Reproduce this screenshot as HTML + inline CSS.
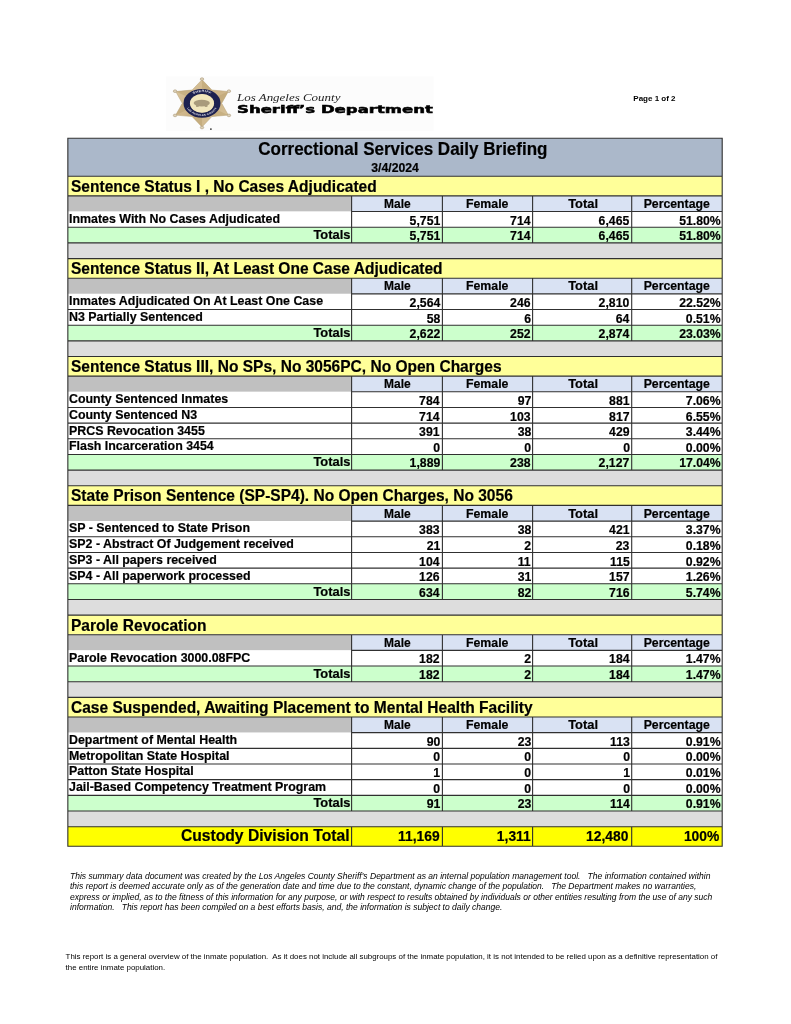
<!DOCTYPE html>
<html lang="en"><head><meta charset="utf-8"><title>Correctional Services Daily Briefing</title>
<style>
html,body{margin:0;padding:0;background:#fff;}
body{width:791px;height:1024px;position:relative;overflow:hidden;font-family:"Liberation Sans",Arial,sans-serif;color:#000;}
.t{position:absolute;white-space:nowrap;font-weight:bold;-webkit-text-stroke:.2px #000;}
.t1{font-size:18.1px;line-height:20px;height:20px;}.t2{font-size:12.9px;line-height:15px;height:15px;}.sec{font-size:16.5px;line-height:18px;height:18px;}.ch{font-size:12.9px;line-height:15px;height:15px;}.lab{font-size:12.9px;line-height:15px;height:15px;}.num{font-size:12.9px;line-height:15px;height:15px;}.totl{font-size:12.9px;line-height:15px;height:15px;}.ctl{font-size:16.5px;line-height:18px;height:18px;}.ctn{font-size:14.2px;line-height:16px;height:16px;}
.sx{display:inline-block;transform:scaleX(.95);transform-origin:0 50%;}
.num .sx,.totl .sx,.ctl .sx,.ctn .sx{transform-origin:100% 50%;}
.ch .sx,.t1 .sx,.t2 .sx{transform-origin:50% 50%;}
.t1 .sx{transform:scaleX(.94);}
.sec .sx{transform:scaleX(.941);}
.lab .sx{transform:scaleX(.962);}
.totl .sx{transform:none;}
.ctn .sx{transform:scaleX(.975);}
.pg{position:absolute;left:633.3px;top:94px;font-size:8px;font-weight:bold;line-height:10px;white-space:nowrap;}
.f1{position:absolute;left:70.4px;top:870.8px;font-size:8.9px;line-height:10.45px;font-style:italic;white-space:nowrap;transform:scaleX(.961);transform-origin:0 0;}
.f2{position:absolute;left:65.6px;top:952px;font-size:7.9px;line-height:10.8px;white-space:nowrap;}
.lg1{position:absolute;left:237px;top:90px;font-family:"Liberation Serif",serif;font-style:italic;font-size:10.8px;line-height:14px;white-space:nowrap;color:#222;transform:scaleX(1.2);transform-origin:0 0;}
.lg2{position:absolute;left:236.6px;top:102px;font-family:"DejaVu Sans","Liberation Sans",sans-serif;font-weight:bold;font-size:10.8px;line-height:16px;white-space:nowrap;transform:scaleX(1.53);transform-origin:0 0;-webkit-text-stroke:.5px #000;}
</style></head><body>
<svg style="position:absolute;left:0;top:0" width="791" height="140" viewBox="0 0 791 140">
<defs>
<linearGradient id="sg" x1="0" y1="0" x2="1" y2="1"><stop offset="0" stop-color="#dcc9a2"/><stop offset=".5" stop-color="#cdb387"/><stop offset="1" stop-color="#d8c59c"/></linearGradient>
<path id="arcT" d="M -11.4 0 A 11.4 11.4 0 0 1 11.4 0"/>
<path id="arcB" d="M -12.6 0 A 12.6 12.6 0 0 0 12.6 0"/>
</defs>
<rect x="166" y="76.5" width="267.5" height="54.5" fill="#fcfcfc"/>
<g transform="translate(202.0,103.3) scale(1.285,1)">
<polygon points="0.00,-23.60 7.65,-13.25 20.44,-11.80 15.30,0.00 20.44,11.80 7.65,13.25 0.00,23.60 -7.65,13.25 -20.44,11.80 -15.30,0.00 -20.44,-11.80 -7.65,-13.25" fill="url(#sg)" stroke="#bda77c" stroke-width=".5"/>
<polygon points="0,0 0.00,-23.60 7.65,-13.25" fill="#b99f6d" opacity=".45"/><polygon points="0,0 20.44,-11.80 15.30,0.00" fill="#b99f6d" opacity=".45"/><polygon points="0,0 20.44,11.80 7.65,13.25" fill="#b99f6d" opacity=".45"/><polygon points="0,0 0.00,23.60 -7.65,13.25" fill="#b99f6d" opacity=".45"/><polygon points="0,0 -20.44,11.80 -15.30,0.00" fill="#b99f6d" opacity=".45"/><polygon points="0,0 -20.44,-11.80 -7.65,-13.25" fill="#b99f6d" opacity=".45"/>
<circle cx="0.00" cy="-24.20" r="1.35" fill="#ded2b8" stroke="#a8977a" stroke-width=".5"/><circle cx="20.96" cy="-12.10" r="1.35" fill="#ded2b8" stroke="#a8977a" stroke-width=".5"/><circle cx="20.96" cy="12.10" r="1.35" fill="#ded2b8" stroke="#a8977a" stroke-width=".5"/><circle cx="0.00" cy="24.20" r="1.35" fill="#ded2b8" stroke="#a8977a" stroke-width=".5"/><circle cx="-20.96" cy="12.10" r="1.35" fill="#ded2b8" stroke="#a8977a" stroke-width=".5"/><circle cx="-20.96" cy="-12.10" r="1.35" fill="#ded2b8" stroke="#a8977a" stroke-width=".5"/>
<circle r="11.85" fill="none" stroke="#1d2150" stroke-width="5.1"/>
<circle r="9.35" fill="#f1e6bd"/>
<ellipse cx="-.2" cy="-.2" rx="6.3" ry="3.4" fill="#a99b7c"/>
<rect x="-4.6" y="1.2" width="2" height="2.4" fill="#a99b7c"/><rect x="2.2" y="1.2" width="2" height="2.4" fill="#a99b7c"/>
<text font-family="Liberation Sans,sans-serif" font-weight="bold" font-size="2.9" fill="#e4e4ec" text-anchor="middle" letter-spacing=".25"><textPath href="#arcT" startOffset="50%">SHERIFF</textPath></text>
<text font-family="Liberation Sans,sans-serif" font-weight="bold" font-size="2.4" fill="#dcdce6" text-anchor="middle" letter-spacing=".1"><textPath href="#arcB" startOffset="50%">LOS ANGELES COUNTY</textPath></text>
</g>
<circle cx="210.9" cy="129.1" r=".9" fill="#333"/>
</svg>
<div class="lg1">Los Angeles County</div>
<div class="lg2">Sheriff’s Department</div>
<div class="pg">Page 1 of 2</div>
<svg style="position:absolute;left:0;top:0" width="791" height="1024" viewBox="0 0 791 1024"><rect x="67.85" y="138.30" width="654.35" height="38.00" fill="#abb8ca"/><rect x="67.85" y="176.30" width="654.35" height="19.60" fill="#ffff99"/><rect x="67.85" y="195.90" width="283.75" height="15.67" fill="#c0c0c0"/><rect x="351.60" y="195.90" width="90.80" height="15.67" fill="#d9e2f3"/><rect x="442.40" y="195.90" width="90.20" height="15.67" fill="#d9e2f3"/><rect x="532.60" y="195.90" width="99.10" height="15.67" fill="#d9e2f3"/><rect x="631.70" y="195.90" width="90.50" height="15.67" fill="#d9e2f3"/><rect x="67.85" y="211.57" width="654.35" height="15.67" fill="#ffffff"/><rect x="67.85" y="227.24" width="654.35" height="15.67" fill="#ccffcc"/><rect x="67.85" y="242.91" width="654.35" height="15.67" fill="#dddddd"/><rect x="67.85" y="258.58" width="654.35" height="19.60" fill="#ffff99"/><rect x="67.85" y="278.18" width="283.75" height="15.67" fill="#c0c0c0"/><rect x="351.60" y="278.18" width="90.80" height="15.67" fill="#d9e2f3"/><rect x="442.40" y="278.18" width="90.20" height="15.67" fill="#d9e2f3"/><rect x="532.60" y="278.18" width="99.10" height="15.67" fill="#d9e2f3"/><rect x="631.70" y="278.18" width="90.50" height="15.67" fill="#d9e2f3"/><rect x="67.85" y="293.85" width="654.35" height="15.67" fill="#ffffff"/><rect x="67.85" y="309.52" width="654.35" height="15.67" fill="#ffffff"/><rect x="67.85" y="325.19" width="654.35" height="15.67" fill="#ccffcc"/><rect x="67.85" y="340.86" width="654.35" height="15.67" fill="#dddddd"/><rect x="67.85" y="356.53" width="654.35" height="19.60" fill="#ffff99"/><rect x="67.85" y="376.13" width="283.75" height="15.67" fill="#c0c0c0"/><rect x="351.60" y="376.13" width="90.80" height="15.67" fill="#d9e2f3"/><rect x="442.40" y="376.13" width="90.20" height="15.67" fill="#d9e2f3"/><rect x="532.60" y="376.13" width="99.10" height="15.67" fill="#d9e2f3"/><rect x="631.70" y="376.13" width="90.50" height="15.67" fill="#d9e2f3"/><rect x="67.85" y="391.80" width="654.35" height="15.67" fill="#ffffff"/><rect x="67.85" y="407.47" width="654.35" height="15.67" fill="#ffffff"/><rect x="67.85" y="423.14" width="654.35" height="15.67" fill="#ffffff"/><rect x="67.85" y="438.81" width="654.35" height="15.67" fill="#ffffff"/><rect x="67.85" y="454.48" width="654.35" height="15.67" fill="#ccffcc"/><rect x="67.85" y="470.15" width="654.35" height="15.67" fill="#dddddd"/><rect x="67.85" y="485.82" width="654.35" height="19.60" fill="#ffff99"/><rect x="67.85" y="505.42" width="283.75" height="15.67" fill="#c0c0c0"/><rect x="351.60" y="505.42" width="90.80" height="15.67" fill="#d9e2f3"/><rect x="442.40" y="505.42" width="90.20" height="15.67" fill="#d9e2f3"/><rect x="532.60" y="505.42" width="99.10" height="15.67" fill="#d9e2f3"/><rect x="631.70" y="505.42" width="90.50" height="15.67" fill="#d9e2f3"/><rect x="67.85" y="521.09" width="654.35" height="15.67" fill="#ffffff"/><rect x="67.85" y="536.76" width="654.35" height="15.67" fill="#ffffff"/><rect x="67.85" y="552.43" width="654.35" height="15.67" fill="#ffffff"/><rect x="67.85" y="568.10" width="654.35" height="15.67" fill="#ffffff"/><rect x="67.85" y="583.77" width="654.35" height="15.67" fill="#ccffcc"/><rect x="67.85" y="599.44" width="654.35" height="15.67" fill="#dddddd"/><rect x="67.85" y="615.11" width="654.35" height="19.60" fill="#ffff99"/><rect x="67.85" y="634.71" width="283.75" height="15.67" fill="#c0c0c0"/><rect x="351.60" y="634.71" width="90.80" height="15.67" fill="#d9e2f3"/><rect x="442.40" y="634.71" width="90.20" height="15.67" fill="#d9e2f3"/><rect x="532.60" y="634.71" width="99.10" height="15.67" fill="#d9e2f3"/><rect x="631.70" y="634.71" width="90.50" height="15.67" fill="#d9e2f3"/><rect x="67.85" y="650.38" width="654.35" height="15.67" fill="#ffffff"/><rect x="67.85" y="666.05" width="654.35" height="15.67" fill="#ccffcc"/><rect x="67.85" y="681.72" width="654.35" height="15.67" fill="#dddddd"/><rect x="67.85" y="697.39" width="654.35" height="19.60" fill="#ffff99"/><rect x="67.85" y="716.99" width="283.75" height="15.67" fill="#c0c0c0"/><rect x="351.60" y="716.99" width="90.80" height="15.67" fill="#d9e2f3"/><rect x="442.40" y="716.99" width="90.20" height="15.67" fill="#d9e2f3"/><rect x="532.60" y="716.99" width="99.10" height="15.67" fill="#d9e2f3"/><rect x="631.70" y="716.99" width="90.50" height="15.67" fill="#d9e2f3"/><rect x="67.85" y="732.66" width="654.35" height="15.67" fill="#ffffff"/><rect x="67.85" y="748.33" width="654.35" height="15.67" fill="#ffffff"/><rect x="67.85" y="764.00" width="654.35" height="15.67" fill="#ffffff"/><rect x="67.85" y="779.67" width="654.35" height="15.67" fill="#ffffff"/><rect x="67.85" y="795.34" width="654.35" height="15.67" fill="#ccffcc"/><rect x="67.85" y="811.01" width="654.35" height="15.67" fill="#dddddd"/><rect x="67.85" y="826.68" width="654.35" height="19.60" fill="#ffff00"/><path fill="none" stroke="#303030" stroke-width="1.1" d="M67.30 138.30H722.75M67.30 176.30H722.75M67.30 195.90H722.75M351.05 211.57H722.75M351.60 195.35V212.12M442.40 195.35V212.12M532.60 195.35V212.12M631.70 195.35V212.12M351.60 211.02V227.79M442.40 211.02V227.79M532.60 211.02V227.79M631.70 211.02V227.79M67.30 227.24H722.75M351.60 226.69V243.46M442.40 226.69V243.46M532.60 226.69V243.46M631.70 226.69V243.46M67.30 242.91H722.75M67.30 258.58H722.75M67.30 278.18H722.75M351.05 293.85H722.75M351.60 277.63V294.40M442.40 277.63V294.40M532.60 277.63V294.40M631.70 277.63V294.40M351.60 293.30V310.07M442.40 293.30V310.07M532.60 293.30V310.07M631.70 293.30V310.07M67.30 309.52H722.75M351.60 308.97V325.74M442.40 308.97V325.74M532.60 308.97V325.74M631.70 308.97V325.74M67.30 325.19H722.75M351.60 324.64V341.41M442.40 324.64V341.41M532.60 324.64V341.41M631.70 324.64V341.41M67.30 340.86H722.75M67.30 356.53H722.75M67.30 376.13H722.75M351.05 391.80H722.75M351.60 375.58V392.35M442.40 375.58V392.35M532.60 375.58V392.35M631.70 375.58V392.35M351.60 391.25V408.02M442.40 391.25V408.02M532.60 391.25V408.02M631.70 391.25V408.02M67.30 407.47H722.75M351.60 406.92V423.69M442.40 406.92V423.69M532.60 406.92V423.69M631.70 406.92V423.69M67.30 423.14H722.75M351.60 422.59V439.36M442.40 422.59V439.36M532.60 422.59V439.36M631.70 422.59V439.36M67.30 438.81H722.75M351.60 438.26V455.03M442.40 438.26V455.03M532.60 438.26V455.03M631.70 438.26V455.03M67.30 454.48H722.75M351.60 453.93V470.70M442.40 453.93V470.70M532.60 453.93V470.70M631.70 453.93V470.70M67.30 470.15H722.75M67.30 485.82H722.75M67.30 505.42H722.75M351.05 521.09H722.75M351.60 504.87V521.64M442.40 504.87V521.64M532.60 504.87V521.64M631.70 504.87V521.64M351.60 520.54V537.31M442.40 520.54V537.31M532.60 520.54V537.31M631.70 520.54V537.31M67.30 536.76H722.75M351.60 536.21V552.98M442.40 536.21V552.98M532.60 536.21V552.98M631.70 536.21V552.98M67.30 552.43H722.75M351.60 551.88V568.65M442.40 551.88V568.65M532.60 551.88V568.65M631.70 551.88V568.65M67.30 568.10H722.75M351.60 567.55V584.32M442.40 567.55V584.32M532.60 567.55V584.32M631.70 567.55V584.32M67.30 583.77H722.75M351.60 583.22V599.99M442.40 583.22V599.99M532.60 583.22V599.99M631.70 583.22V599.99M67.30 599.44H722.75M67.30 615.11H722.75M67.30 634.71H722.75M351.05 650.38H722.75M351.60 634.16V650.93M442.40 634.16V650.93M532.60 634.16V650.93M631.70 634.16V650.93M351.60 649.83V666.60M442.40 649.83V666.60M532.60 649.83V666.60M631.70 649.83V666.60M67.30 666.05H722.75M351.60 665.50V682.27M442.40 665.50V682.27M532.60 665.50V682.27M631.70 665.50V682.27M67.30 681.72H722.75M67.30 697.39H722.75M67.30 716.99H722.75M351.05 732.66H722.75M351.60 716.44V733.21M442.40 716.44V733.21M532.60 716.44V733.21M631.70 716.44V733.21M351.60 732.11V748.88M442.40 732.11V748.88M532.60 732.11V748.88M631.70 732.11V748.88M67.30 748.33H722.75M351.60 747.78V764.55M442.40 747.78V764.55M532.60 747.78V764.55M631.70 747.78V764.55M67.30 764.00H722.75M351.60 763.45V780.22M442.40 763.45V780.22M532.60 763.45V780.22M631.70 763.45V780.22M67.30 779.67H722.75M351.60 779.12V795.89M442.40 779.12V795.89M532.60 779.12V795.89M631.70 779.12V795.89M67.30 795.34H722.75M351.60 794.79V811.56M442.40 794.79V811.56M532.60 794.79V811.56M631.70 794.79V811.56M67.30 811.01H722.75M67.30 826.68H722.75M351.60 826.13V846.83M442.40 826.13V846.83M532.60 826.13V846.83M631.70 826.13V846.83M67.30 846.28H722.75M67.85 137.75V846.83M722.20 137.75V846.83"/></svg>
<div class="t t1" style="top:139px;left:152.90px;width:500px;text-align:center;"><span class="sx">Correctional Services Daily Briefing</span></div>
<div class="t t2" style="top:160px;left:145.50px;width:500px;text-align:center;"><span class="sx">3/4/2024</span></div>
<div class="t sec" style="top:177px;left:70.55px;"><span class="sx">Sentence Status I , No Cases Adjudicated</span></div>
<div class="t ch" style="top:196px;left:147.40px;width:500px;text-align:center;"><span class="sx" style="transform:scaleX(0.93)">Male</span></div>
<div class="t ch" style="top:196px;left:237.20px;width:500px;text-align:center;"><span class="sx" style="transform:scaleX(0.958)">Female</span></div>
<div class="t ch" style="top:196px;left:333.05px;width:500px;text-align:center;"><span class="sx" style="transform:scaleX(1.0)">Total</span></div>
<div class="t ch" style="top:196px;left:426.95px;width:500px;text-align:center;"><span class="sx" style="transform:scaleX(0.953)">Percentage</span></div>
<div class="t lab" style="top:211px;left:69.35px;"><span class="sx">Inmates With No Cases Adjudicated</span></div>
<div class="t num" style="top:213px;right:351.00px;"><span class="sx">5,751</span></div>
<div class="t num" style="top:213px;right:260.00px;"><span class="sx">714</span></div>
<div class="t num" style="top:213px;right:161.30px;"><span class="sx">6,465</span></div>
<div class="t num" style="top:213px;right:70.20px;"><span class="sx">51.80%</span></div>
<div class="t totl" style="top:227px;right:440.60px;"><span class="sx">Totals</span></div>
<div class="t num" style="top:228px;right:351.00px;"><span class="sx">5,751</span></div>
<div class="t num" style="top:228px;right:260.00px;"><span class="sx">714</span></div>
<div class="t num" style="top:228px;right:161.30px;"><span class="sx">6,465</span></div>
<div class="t num" style="top:228px;right:70.20px;"><span class="sx">51.80%</span></div>
<div class="t sec" style="top:259px;left:70.55px;"><span class="sx">Sentence Status II, At Least One Case Adjudicated</span></div>
<div class="t ch" style="top:278px;left:147.40px;width:500px;text-align:center;"><span class="sx" style="transform:scaleX(0.93)">Male</span></div>
<div class="t ch" style="top:278px;left:237.20px;width:500px;text-align:center;"><span class="sx" style="transform:scaleX(0.958)">Female</span></div>
<div class="t ch" style="top:278px;left:333.05px;width:500px;text-align:center;"><span class="sx" style="transform:scaleX(1.0)">Total</span></div>
<div class="t ch" style="top:278px;left:426.95px;width:500px;text-align:center;"><span class="sx" style="transform:scaleX(0.953)">Percentage</span></div>
<div class="t lab" style="top:293px;left:69.35px;"><span class="sx">Inmates Adjudicated On At Least One Case</span></div>
<div class="t num" style="top:295px;right:351.00px;"><span class="sx">2,564</span></div>
<div class="t num" style="top:295px;right:260.00px;"><span class="sx">246</span></div>
<div class="t num" style="top:295px;right:161.30px;"><span class="sx">2,810</span></div>
<div class="t num" style="top:295px;right:70.20px;"><span class="sx">22.52%</span></div>
<div class="t lab" style="top:309px;left:69.35px;"><span class="sx">N3 Partially Sentenced</span></div>
<div class="t num" style="top:311px;right:351.00px;"><span class="sx">58</span></div>
<div class="t num" style="top:311px;right:260.00px;"><span class="sx">6</span></div>
<div class="t num" style="top:311px;right:161.30px;"><span class="sx">64</span></div>
<div class="t num" style="top:311px;right:70.20px;"><span class="sx">0.51%</span></div>
<div class="t totl" style="top:325px;right:440.60px;"><span class="sx">Totals</span></div>
<div class="t num" style="top:326px;right:351.00px;"><span class="sx">2,622</span></div>
<div class="t num" style="top:326px;right:260.00px;"><span class="sx">252</span></div>
<div class="t num" style="top:326px;right:161.30px;"><span class="sx">2,874</span></div>
<div class="t num" style="top:326px;right:70.20px;"><span class="sx">23.03%</span></div>
<div class="t sec" style="top:357px;left:70.55px;"><span class="sx">Sentence Status III, No SPs, No 3056PC, No Open Charges</span></div>
<div class="t ch" style="top:376px;left:147.40px;width:500px;text-align:center;"><span class="sx" style="transform:scaleX(0.93)">Male</span></div>
<div class="t ch" style="top:376px;left:237.20px;width:500px;text-align:center;"><span class="sx" style="transform:scaleX(0.958)">Female</span></div>
<div class="t ch" style="top:376px;left:333.05px;width:500px;text-align:center;"><span class="sx" style="transform:scaleX(1.0)">Total</span></div>
<div class="t ch" style="top:376px;left:426.95px;width:500px;text-align:center;"><span class="sx" style="transform:scaleX(0.953)">Percentage</span></div>
<div class="t lab" style="top:391px;left:69.35px;"><span class="sx">County Sentenced Inmates</span></div>
<div class="t num" style="top:393px;right:351.00px;"><span class="sx">784</span></div>
<div class="t num" style="top:393px;right:260.00px;"><span class="sx">97</span></div>
<div class="t num" style="top:393px;right:161.30px;"><span class="sx">881</span></div>
<div class="t num" style="top:393px;right:70.20px;"><span class="sx">7.06%</span></div>
<div class="t lab" style="top:407px;left:69.35px;"><span class="sx">County Sentenced N3</span></div>
<div class="t num" style="top:409px;right:351.00px;"><span class="sx">714</span></div>
<div class="t num" style="top:409px;right:260.00px;"><span class="sx">103</span></div>
<div class="t num" style="top:409px;right:161.30px;"><span class="sx">817</span></div>
<div class="t num" style="top:409px;right:70.20px;"><span class="sx">6.55%</span></div>
<div class="t lab" style="top:423px;left:69.35px;"><span class="sx">PRCS Revocation 3455</span></div>
<div class="t num" style="top:424px;right:351.00px;"><span class="sx">391</span></div>
<div class="t num" style="top:424px;right:260.00px;"><span class="sx">38</span></div>
<div class="t num" style="top:424px;right:161.30px;"><span class="sx">429</span></div>
<div class="t num" style="top:424px;right:70.20px;"><span class="sx">3.44%</span></div>
<div class="t lab" style="top:438px;left:69.35px;"><span class="sx">Flash Incarceration 3454</span></div>
<div class="t num" style="top:440px;right:351.00px;"><span class="sx">0</span></div>
<div class="t num" style="top:440px;right:260.00px;"><span class="sx">0</span></div>
<div class="t num" style="top:440px;right:161.30px;"><span class="sx">0</span></div>
<div class="t num" style="top:440px;right:70.20px;"><span class="sx">0.00%</span></div>
<div class="t totl" style="top:454px;right:440.60px;"><span class="sx">Totals</span></div>
<div class="t num" style="top:455px;right:351.00px;"><span class="sx">1,889</span></div>
<div class="t num" style="top:455px;right:260.00px;"><span class="sx">238</span></div>
<div class="t num" style="top:455px;right:161.30px;"><span class="sx">2,127</span></div>
<div class="t num" style="top:455px;right:70.20px;"><span class="sx">17.04%</span></div>
<div class="t sec" style="top:486px;left:70.55px;"><span class="sx">State Prison Sentence (SP-SP4). No Open Charges, No 3056</span></div>
<div class="t ch" style="top:506px;left:147.40px;width:500px;text-align:center;"><span class="sx" style="transform:scaleX(0.93)">Male</span></div>
<div class="t ch" style="top:506px;left:237.20px;width:500px;text-align:center;"><span class="sx" style="transform:scaleX(0.958)">Female</span></div>
<div class="t ch" style="top:506px;left:333.05px;width:500px;text-align:center;"><span class="sx" style="transform:scaleX(1.0)">Total</span></div>
<div class="t ch" style="top:506px;left:426.95px;width:500px;text-align:center;"><span class="sx" style="transform:scaleX(0.953)">Percentage</span></div>
<div class="t lab" style="top:520px;left:69.35px;"><span class="sx">SP - Sentenced to State Prison</span></div>
<div class="t num" style="top:522px;right:351.00px;"><span class="sx">383</span></div>
<div class="t num" style="top:522px;right:260.00px;"><span class="sx">38</span></div>
<div class="t num" style="top:522px;right:161.30px;"><span class="sx">421</span></div>
<div class="t num" style="top:522px;right:70.20px;"><span class="sx">3.37%</span></div>
<div class="t lab" style="top:536px;left:69.35px;"><span class="sx">SP2 - Abstract Of Judgement received</span></div>
<div class="t num" style="top:538px;right:351.00px;"><span class="sx">21</span></div>
<div class="t num" style="top:538px;right:260.00px;"><span class="sx">2</span></div>
<div class="t num" style="top:538px;right:161.30px;"><span class="sx">23</span></div>
<div class="t num" style="top:538px;right:70.20px;"><span class="sx">0.18%</span></div>
<div class="t lab" style="top:552px;left:69.35px;"><span class="sx">SP3 - All papers received</span></div>
<div class="t num" style="top:554px;right:351.00px;"><span class="sx">104</span></div>
<div class="t num" style="top:554px;right:260.00px;"><span class="sx">11</span></div>
<div class="t num" style="top:554px;right:161.30px;"><span class="sx">115</span></div>
<div class="t num" style="top:554px;right:70.20px;"><span class="sx">0.92%</span></div>
<div class="t lab" style="top:568px;left:69.35px;"><span class="sx">SP4 - All paperwork processed</span></div>
<div class="t num" style="top:569px;right:351.00px;"><span class="sx">126</span></div>
<div class="t num" style="top:569px;right:260.00px;"><span class="sx">31</span></div>
<div class="t num" style="top:569px;right:161.30px;"><span class="sx">157</span></div>
<div class="t num" style="top:569px;right:70.20px;"><span class="sx">1.26%</span></div>
<div class="t totl" style="top:584px;right:440.60px;"><span class="sx">Totals</span></div>
<div class="t num" style="top:585px;right:351.00px;"><span class="sx">634</span></div>
<div class="t num" style="top:585px;right:260.00px;"><span class="sx">82</span></div>
<div class="t num" style="top:585px;right:161.30px;"><span class="sx">716</span></div>
<div class="t num" style="top:585px;right:70.20px;"><span class="sx">5.74%</span></div>
<div class="t sec" style="top:616px;left:70.55px;"><span class="sx">Parole Revocation</span></div>
<div class="t ch" style="top:635px;left:147.40px;width:500px;text-align:center;"><span class="sx" style="transform:scaleX(0.93)">Male</span></div>
<div class="t ch" style="top:635px;left:237.20px;width:500px;text-align:center;"><span class="sx" style="transform:scaleX(0.958)">Female</span></div>
<div class="t ch" style="top:635px;left:333.05px;width:500px;text-align:center;"><span class="sx" style="transform:scaleX(1.0)">Total</span></div>
<div class="t ch" style="top:635px;left:426.95px;width:500px;text-align:center;"><span class="sx" style="transform:scaleX(0.953)">Percentage</span></div>
<div class="t lab" style="top:650px;left:69.35px;"><span class="sx">Parole Revocation 3000.08FPC</span></div>
<div class="t num" style="top:651px;right:351.00px;"><span class="sx">182</span></div>
<div class="t num" style="top:651px;right:260.00px;"><span class="sx">2</span></div>
<div class="t num" style="top:651px;right:161.30px;"><span class="sx">184</span></div>
<div class="t num" style="top:651px;right:70.20px;"><span class="sx">1.47%</span></div>
<div class="t totl" style="top:666px;right:440.60px;"><span class="sx">Totals</span></div>
<div class="t num" style="top:667px;right:351.00px;"><span class="sx">182</span></div>
<div class="t num" style="top:667px;right:260.00px;"><span class="sx">2</span></div>
<div class="t num" style="top:667px;right:161.30px;"><span class="sx">184</span></div>
<div class="t num" style="top:667px;right:70.20px;"><span class="sx">1.47%</span></div>
<div class="t sec" style="top:698px;left:70.55px;"><span class="sx">Case Suspended, Awaiting Placement to Mental Health Facility</span></div>
<div class="t ch" style="top:717px;left:147.40px;width:500px;text-align:center;"><span class="sx" style="transform:scaleX(0.93)">Male</span></div>
<div class="t ch" style="top:717px;left:237.20px;width:500px;text-align:center;"><span class="sx" style="transform:scaleX(0.958)">Female</span></div>
<div class="t ch" style="top:717px;left:333.05px;width:500px;text-align:center;"><span class="sx" style="transform:scaleX(1.0)">Total</span></div>
<div class="t ch" style="top:717px;left:426.95px;width:500px;text-align:center;"><span class="sx" style="transform:scaleX(0.953)">Percentage</span></div>
<div class="t lab" style="top:732px;left:69.35px;"><span class="sx">Department of Mental Health</span></div>
<div class="t num" style="top:734px;right:351.00px;"><span class="sx">90</span></div>
<div class="t num" style="top:734px;right:260.00px;"><span class="sx">23</span></div>
<div class="t num" style="top:734px;right:161.30px;"><span class="sx">113</span></div>
<div class="t num" style="top:734px;right:70.20px;"><span class="sx">0.91%</span></div>
<div class="t lab" style="top:748px;left:69.35px;"><span class="sx">Metropolitan State Hospital</span></div>
<div class="t num" style="top:749px;right:351.00px;"><span class="sx">0</span></div>
<div class="t num" style="top:749px;right:260.00px;"><span class="sx">0</span></div>
<div class="t num" style="top:749px;right:161.30px;"><span class="sx">0</span></div>
<div class="t num" style="top:749px;right:70.20px;"><span class="sx">0.00%</span></div>
<div class="t lab" style="top:763px;left:69.35px;"><span class="sx">Patton State Hospital</span></div>
<div class="t num" style="top:765px;right:351.00px;"><span class="sx">1</span></div>
<div class="t num" style="top:765px;right:260.00px;"><span class="sx">0</span></div>
<div class="t num" style="top:765px;right:161.30px;"><span class="sx">1</span></div>
<div class="t num" style="top:765px;right:70.20px;"><span class="sx">0.01%</span></div>
<div class="t lab" style="top:779px;left:69.35px;"><span class="sx">Jail-Based Competency Treatment Program</span></div>
<div class="t num" style="top:781px;right:351.00px;"><span class="sx">0</span></div>
<div class="t num" style="top:781px;right:260.00px;"><span class="sx">0</span></div>
<div class="t num" style="top:781px;right:161.30px;"><span class="sx">0</span></div>
<div class="t num" style="top:781px;right:70.20px;"><span class="sx">0.00%</span></div>
<div class="t totl" style="top:795px;right:440.60px;"><span class="sx">Totals</span></div>
<div class="t num" style="top:796px;right:351.00px;"><span class="sx">91</span></div>
<div class="t num" style="top:796px;right:260.00px;"><span class="sx">23</span></div>
<div class="t num" style="top:796px;right:161.30px;"><span class="sx">114</span></div>
<div class="t num" style="top:796px;right:70.20px;"><span class="sx">0.91%</span></div>
<div class="t ctl" style="top:826px;right:441.90px;"><span class="sx">Custody Division Total</span></div>
<div class="t ctn" style="top:828px;right:351.00px;"><span class="sx">11,169</span></div>
<div class="t ctn" style="top:828px;right:260.50px;"><span class="sx">1,311</span></div>
<div class="t ctn" style="top:828px;right:162.30px;"><span class="sx">12,480</span></div>
<div class="t ctn" style="top:828px;right:71.70px;"><span class="sx">100%</span></div>
<div class="f1">This summary data document was created by the Los Angeles County Sheriff's Department as an internal population management tool.&nbsp;&nbsp; The information contained within<br>this report is deemed accurate only as of the generation date and time due to the constant, dynamic change of the population.&nbsp;&nbsp; The Department makes no warranties,<br>express or implied, as to the fitness of this information for any purpose, or with respect to results obtained by individuals or other entities resulting from the use of any such<br>information.&nbsp;&nbsp; This report has been compiled on a best efforts basis, and, the information is subject to daily change.</div>
<div class="f2">This report is a general overview of the inmate population.&nbsp; As it does not include all subgroups of the inmate population, it is not intended to be relied upon as a definitive representation of<br>the entire inmate population.</div>
</body></html>
